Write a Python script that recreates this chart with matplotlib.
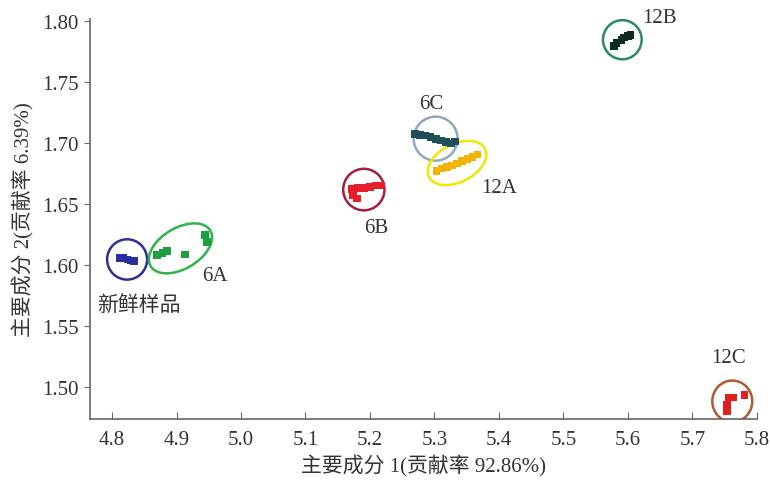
import matplotlib

matplotlib.use("Agg")
import matplotlib.pyplot as plt
import numpy as np
from matplotlib.patches import Ellipse

plt.rcParams["font.family"] = ["Liberation Serif", "Noto Sans CJK SC"]

# PCA scores per sample group
fresh_x = [4.812, 4.818, 4.824, 4.829, 4.834]
fresh_y = [1.6055, 1.6058, 1.6045, 1.6035, 1.6032]
a6_x = [4.870, 4.878, 4.885, 4.913, 4.944, 4.947]
a6_y = [1.6080, 1.6100, 1.6115, 1.6085, 1.6245, 1.6190]
b6_x = [5.172, 5.181, 5.191, 5.200, 5.209, 5.217, 5.174, 5.180]
b6_y = [1.6620, 1.6630, 1.6630, 1.6640, 1.6650, 1.6650, 1.6570, 1.6545]
c6_x = [5.270, 5.278, 5.286, 5.294, 5.302, 5.310, 5.318, 5.326, 5.332]
c6_y = [1.7070, 1.7065, 1.7060, 1.7045, 1.7030, 1.7020, 1.7005, 1.6995, 1.7010]
a12_x = [5.303, 5.311, 5.319, 5.327, 5.335, 5.343, 5.351, 5.359, 5.367]
a12_y = [1.6770, 1.6790, 1.6800, 1.6815, 1.6830, 1.6850, 1.6865, 1.6885, 1.6905]
b12_x = [5.578, 5.582, 5.590, 5.594, 5.600, 5.604]
b12_y = [1.7790, 1.7815, 1.7840, 1.7860, 1.7875, 1.7880]
c12_x = [5.756, 5.764, 5.754, 5.754, 5.781]
c12_y = [1.4915, 1.4915, 1.4855, 1.4800, 1.4935]

group_names = ["新鲜样品", "6A", "6B", "6C", "12A", "12B", "12C"]

# (points, marker colour, ring colour, ring width, ring height, ring angle, label offset)
groups = [
    (fresh_x, fresh_y, "#2b2f9e", "#2e3192", 0.062, 0.033, 0, (0.018, -0.037)),
    (a6_x, a6_y, "#1f9e40", "#2fb34c", 0.100, 0.036, 12, (0.054, -0.022)),
    (b6_x, b6_y, "#e5202a", "#a3203c", 0.064, 0.034, 0, (0.020, -0.031)),
    (c6_x, c6_y, "#1f4f58", "#8fa9bf", 0.068, 0.036, 0, (-0.006, 0.029)),
    (a12_x, a12_y, "#f2b400", "#f2e600", 0.092, 0.033, 10, (0.066, -0.020)),
    (b12_x, b12_y, "#0b2b1c", "#2a8a6a", 0.060, 0.032, 0, (0.058, 0.018)),
    (c12_x, c12_y, "#e21f1f", "#b05a30", 0.062, 0.034, 0, (-0.006, 0.036)),
]

fig = plt.figure(figsize=(7.7, 4.81), dpi=100)
ax = fig.add_axes([0.117, 0.127, 0.866, 0.832])

for name, (xs, ys, mc, rc, w, h, ang, off) in zip(group_names, groups):
    ax.scatter(xs, ys, marker="s", s=30, color=mc, edgecolors="none", zorder=3)
    cx, cy = np.mean(xs), np.mean(ys)
    ax.add_patch(
        Ellipse((cx, cy), w, h, angle=ang, fill=False, edgecolor=rc, linewidth=1.8, zorder=2)
    )
    ax.text(cx + off[0], cy + off[1], name, fontsize=15, color="#333333",
            ha="center", va="center")

ax.set_xlim(4.766, 5.8)
ax.set_ylim(1.474, 1.8015)
ax.set_xticks(np.arange(4.8, 5.81, 0.1))
ax.set_yticks(np.arange(1.50, 1.801, 0.05))
ax.set_xticklabels([f"{v:.1f}" for v in np.arange(4.8, 5.81, 0.1)])
ax.set_yticklabels([f"{v:.2f}" for v in np.arange(1.50, 1.801, 0.05)])

for side in ("top", "right"):
    ax.spines[side].set_visible(False)
for side in ("left", "bottom"):
    ax.spines[side].set_color("#666666")
    ax.spines[side].set_linewidth(1.2)
ax.tick_params(axis="x", direction="in", length=5, color="#666666",
               labelsize=15, labelcolor="#333333", pad=8)
ax.tick_params(axis="y", direction="out", length=4, color="#666666",
               labelsize=15, labelcolor="#333333", pad=4)

ax.set_xlabel("主要成分 1(贡献率 92.86%)", fontsize=15, color="#333333", labelpad=4)
ax.set_ylabel("主要成分 2(贡献率 6.39%)", fontsize=15, color="#333333", labelpad=6)

fig.savefig("out.png", dpi=100)
